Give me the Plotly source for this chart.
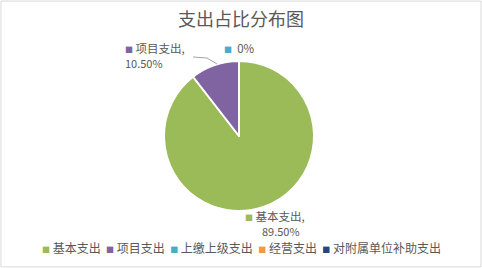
import plotly.graph_objects as go

labels = ["基本支出", "项目支出", "上缴上级支出", "经营支出", "对附属单位补助支出"]
values = [89.5, 10.5, 0, 0, 0]
colors = ["#9BBB59", "#8064A2", "#4BACC6", "#F79646", "#1F497D"]
title = "支出占比分布图"

W, H = 482, 268
cx, cy, r = 239, 136, 75

fig = go.Figure(go.Pie(
    labels=labels, values=values, sort=False, direction="clockwise", rotation=0,
    marker=dict(colors=colors, line=dict(color="white", width=2)),
    textinfo="none", hoverinfo="label+percent", showlegend=False,
    domain=dict(x=[(cx - r) / W, (cx + r) / W], y=[(H - cy - r) / H, (H - cy + r) / H]),
))

font = "Noto Sans CJK SC, Microsoft YaHei, sans-serif"
gray = "#595959"

def fmt(v):
    return "0%" if v == 0 else f"{v:.2f}%"

def sq(c, size=8):
    return f"<span style='color:{c};font-size:{size}px'>■</span>"

ann = []
def add(x, y, text, xanchor="left", size=12):
    ann.append(dict(x=x / W, y=1 - y / H, text=text, xref="paper", yref="paper",
                    xanchor=xanchor, yanchor="middle", showarrow=False, borderpad=0,
                    font=dict(family=font, size=size, color=gray)))

# data labels
add(244, 216, f"{sq(colors[0])} {labels[0]},", size=11.5)
add(281, 231, fmt(values[0]), xanchor="center", size=11)
add(124, 48, f"{sq(colors[1])} {labels[1]},", size=11.5)
add(144, 63, fmt(values[1]), xanchor="center", size=11)
add(223, 48, f"{sq(colors[2])}  {fmt(values[2])}", size=11.5)

# legend as a single line of text
legend_text = "&nbsp;&nbsp;".join(f"{sq(c)}&nbsp;{l}" for l, c in zip(labels, colors))
add(241, 247, legend_text, xanchor="center")

fig.update_layout(
    width=W, height=H,
    margin=dict(l=0, r=0, t=0, b=0),
    paper_bgcolor="white", plot_bgcolor="white",
    title=dict(text=title, x=0.5, xanchor="center", y=1 - 20 / H, yanchor="middle",
               font=dict(family=font, size=18, color=gray)),
    showlegend=False,
    annotations=ann,
    shapes=[
        dict(type="rect", xref="paper", yref="paper", x0=0.002, y0=0.004, x1=0.998, y1=0.996,
             line=dict(color="#D9D9D9", width=1)),
        dict(type="path", xref="paper", yref="paper",
             path=f"M {193/W},{1-57/H} L {207/W},{1-58/H} L {217/W},{1-64/H}",
             line=dict(color="#A6A6A6", width=1)),
    ],
)

fig.write_html("out.html")
